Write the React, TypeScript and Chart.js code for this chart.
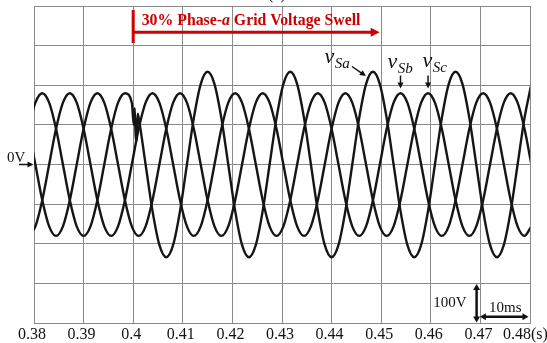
import React, { useEffect, useRef } from 'react';
import { Chart, registerables } from 'chart.js';

Chart.register(...registerables);

// Sample instants (s): one every 30 electrical degrees of the 60 Hz supply
const TIME_S = [
  0.378889, 0.380278, 0.381667, 0.383056, 0.384444, 0.385833, 0.387222, 0.388611,
  0.39, 0.391389, 0.392778, 0.394167, 0.395556, 0.396944, 0.398333, 0.399722,
  0.401111, 0.4025, 0.403889, 0.405278, 0.406667, 0.408056, 0.409444, 0.410833,
  0.412222, 0.413611, 0.415, 0.416389, 0.417778, 0.419167, 0.420556, 0.421944,
  0.423333, 0.424722, 0.426111, 0.4275, 0.428889, 0.430278, 0.431667, 0.433056,
  0.434444, 0.435833, 0.437222, 0.438611, 0.44, 0.441389, 0.442778, 0.444167,
  0.445556, 0.446944, 0.448333, 0.449722, 0.451111, 0.4525, 0.453889, 0.455278,
  0.456667, 0.458056, 0.459444, 0.460833, 0.462222, 0.463611, 0.465, 0.466389,
  0.467778, 0.469167, 0.470556, 0.471944, 0.473333, 0.474722, 0.476111, 0.4775,
  0.478889, 0.480278,
];

// Phase-a source voltage (V) up to the swell (first 16 instants)
const VSA_BEFORE = [90, 156, 180, 156, 90, 0, -90, -156, -180, -156, -90, 0, 90, 156, 180, 156];

// Switching disturbance on phase a right at the swell onset
const VSA_ONSET_T = [0.40012, 0.4003, 0.4005, 0.40068, 0.4009];
const VSA_ONSET_V = [100, 142, 72, 58, 128];

// Phase-a source voltage (V) during the 30 % swell (remaining instants)
const VSA_AFTER = [
  117, 0, -117, -203, -234, -203, -117, 0, 117, 203, 234, 203,
  117, 0, -117, -203, -234, -203, -117, 0, 117, 203, 234, 203,
  117, 0, -117, -203, -234, -203, -117, 0, 117, 203, 234, 203,
  117, 0, -117, -203, -234, -203, -117, 0, 117, 203, 234, 203,
  117, 0, -117, -203, -234, -203, -117, 0, 117, 203,
];

// Phase-b and phase-c source voltages (V), unaffected by the swell
const VSB = [
  -180, -156, -90, 0, 90, 156, 180, 156, 90, 0, -90, -156,
  -180, -156, -90, 0, 90, 156, 180, 156, 90, 0, -90, -156,
  -180, -156, -90, 0, 90, 156, 180, 156, 90, 0, -90, -156,
  -180, -156, -90, 0, 90, 156, 180, 156, 90, 0, -90, -156,
  -180, -156, -90, 0, 90, 156, 180, 156, 90, 0, -90, -156,
  -180, -156, -90, 0, 90, 156, 180, 156, 90, 0, -90, -156,
  -180, -156,
];
const VSC = [
  90, 0, -90, -156, -180, -156, -90, 0, 90, 156, 180, 156,
  90, 0, -90, -156, -180, -156, -90, 0, 90, 156, 180, 156,
  90, 0, -90, -156, -180, -156, -90, 0, 90, 156, 180, 156,
  90, 0, -90, -156, -180, -156, -90, 0, 90, 156, 180, 156,
  90, 0, -90, -156, -180, -156, -90, 0, 90, 156, 180, 156,
  90, 0, -90, -156, -180, -156, -90, 0, 90, 156, 180, 156,
  90, 0,
];

// Time axis ticks and their printed labels
const X_TICKS = [0.38, 0.39, 0.4, 0.41, 0.42, 0.43, 0.44, 0.45, 0.46, 0.47, 0.48];
const X_TICK_LABELS = ['0.38', '0.39', '0.4', '0.41', '0.42', '0.43', '0.44', '0.45', '0.46', '0.47', '0.48(s)'];

// Voltage axis: 100 V per division
const Y_MIN = -400;
const Y_MAX = 400;
const Y_STEP = 100;

// Event marker and peak instants used by the labels
const SWELL_START_S = 0.4;
const SWELL_ARROW_END_S = 0.4497;
const SWELL_TEXT = ['30% Phase-', 'a', ' Grid Voltage Swell'];
const PEAK_A_S = 0.448333;
const PEAK_B_S = 0.453889;
const PEAK_C_S = 0.459444;

const SERIF = '"Liberation Serif", "Times New Roman", serif';
const INK = '#111111';
const RED = '#cc0000';

function arrowHead(ctx: CanvasRenderingContext2D, x: number, y: number, angle: number, len: number, half: number) {
  ctx.save();
  ctx.translate(x, y);
  ctx.rotate(angle);
  ctx.beginPath();
  ctx.moveTo(0, 0);
  ctx.lineTo(-len, -half);
  ctx.lineTo(-len, half);
  ctx.closePath();
  ctx.fill();
  ctx.restore();
}

function arrow(ctx: CanvasRenderingContext2D, x0: number, y0: number, x1: number, y1: number, lw: number, len: number, half: number, both = false) {
  const ang = Math.atan2(y1 - y0, x1 - x0);
  const cx = Math.cos(ang) * len * 0.8;
  const cy = Math.sin(ang) * len * 0.8;
  ctx.lineWidth = lw;
  ctx.beginPath();
  ctx.moveTo(both ? x0 + cx : x0, both ? y0 + cy : y0);
  ctx.lineTo(x1 - cx, y1 - cy);
  ctx.stroke();
  arrowHead(ctx, x1, y1, ang, len, half);
  if (both) arrowHead(ctx, x0, y0, ang + Math.PI, len, half);
}

function phaseLabel(ctx: CanvasRenderingContext2D, x: number, y: number, sub: string, subDy: number) {
  ctx.textAlign = 'left';
  ctx.font = `italic 22px ${SERIF}`;
  ctx.fillText('v', x, y);
  const w = ctx.measureText('v').width;
  ctx.font = `italic 15px ${SERIF}`;
  ctx.fillText(sub, x + w + 0.5, y + subDy);
}

const overlay = {
  id: 'scopeOverlay',
  afterDraw(chart: any) {
    const { ctx } = chart;
    const xs = chart.scales.x;
    const ys = chart.scales.y;
    ctx.save();
    ctx.fillStyle = INK;
    ctx.strokeStyle = INK;
    ctx.textBaseline = 'alphabetic';

    // time tick labels
    ctx.font = `16px ${SERIF}`;
    xs.ticks.forEach((tk: any, i: number) => {
      const px = xs.getPixelForValue(tk.value);
      const label = X_TICK_LABELS[i];
      if (i === X_TICK_LABELS.length - 1) {
        ctx.textAlign = 'left';
        ctx.fillText(label, px - 27, 338.5);
      } else {
        ctx.textAlign = 'center';
        ctx.fillText(label, px - 2, 338.5);
      }
    });

    // clipped caption above the frame
    ctx.textAlign = 'center';
    ctx.font = `16px ${SERIF}`;
    ctx.fillText('(c)', 277, -1.5);

    // zero reference marker
    const y0 = ys.getPixelForValue(0);
    ctx.textAlign = 'left';
    ctx.font = `15px ${SERIF}`;
    ctx.fillText('0V', 7, y0 - 3);
    arrow(ctx, 19, y0, chart.chartArea.left - 0.5, y0, 1.5, 6, 3);

    // swell event marker
    const xs0 = xs.getPixelForValue(SWELL_START_S);
    const xs1 = xs.getPixelForValue(SWELL_ARROW_END_S);
    ctx.fillStyle = RED;
    ctx.strokeStyle = RED;
    ctx.fillRect(xs0 - 1.5, 10, 3, 33);
    arrow(ctx, xs0, 32.3, xs1, 32.3, 3, 9, 4.5);
    let tx = xs0 + 8.5;
    SWELL_TEXT.forEach((part, i) => {
      ctx.font = i === 1 ? `italic bold 15.8px ${SERIF}` : `bold 15.8px ${SERIF}`;
      ctx.fillText(part, tx, 25.3);
      tx += ctx.measureText(part).width;
    });

    // phase labels with pointers to their crests
    ctx.fillStyle = INK;
    ctx.strokeStyle = INK;
    phaseLabel(ctx, 324.5, 63, 'Sa', 5);
    arrow(ctx, 352, 66.5, xs.getPixelForValue(PEAK_A_S) - 7, 76, 1.5, 6, 3);
    phaseLabel(ctx, 387.5, 67.5, 'Sb', 5.5);
    const pb = xs.getPixelForValue(PEAK_B_S);
    arrow(ctx, pb, 75.5, pb, 88.5, 1.5, 6, 3);
    phaseLabel(ctx, 422.5, 67, 'Sc', 5);
    const pc = xs.getPixelForValue(PEAK_C_S);
    arrow(ctx, pc, 75.5, pc, 88.5, 1.5, 6, 3);

    // scale bars: 100 V and 10 ms
    const yTop = ys.getPixelForValue(Y_MIN + Y_STEP);
    const yBot = ys.getPixelForValue(Y_MIN);
    const xl = xs.getPixelForValue(0.47);
    const xr = xs.getPixelForValue(0.48);
    arrow(ctx, xl - 3.8, yBot - 0.5, xl - 3.8, yTop + 0.5, 2.5, 6, 3.5, true);
    arrow(ctx, xl - 0.5, 316.8, xr - 1.5, 316.8, 2.5, 6, 3.5, true);
    ctx.font = `15px ${SERIF}`;
    ctx.textAlign = 'right';
    ctx.fillText('100V', 466.5, 306.5);
    ctx.textAlign = 'left';
    ctx.fillText('10ms', 489, 312);
    ctx.restore();
  },
};

export default function App() {
  const ref = useRef<HTMLCanvasElement | null>(null);

  useEffect(() => {
    document.body.style.margin = '0';
    const canvas = ref.current;
    if (!canvas) return;

    const pts = (ts: number[], vs: number[]) => ts.map((t, i) => ({ x: t, y: vs[i] }));
    const phaseA = [
      ...pts(TIME_S.slice(0, VSA_BEFORE.length), VSA_BEFORE),
      ...pts(VSA_ONSET_T, VSA_ONSET_V),
      ...pts(TIME_S.slice(VSA_BEFORE.length), VSA_AFTER),
    ];
    const wave = {
      borderColor: '#151515',
      borderWidth: 2.4,
      pointRadius: 0,
      cubicInterpolationMode: 'monotone' as const,
      fill: false,
      clip: 0,
    };

    const chart = new Chart(canvas, {
      type: 'line',
      data: {
        datasets: [
          { label: 'vSa', data: phaseA, ...wave },
          { label: 'vSb', data: pts(TIME_S, VSB), ...wave },
          { label: 'vSc', data: pts(TIME_S, VSC), ...wave },
        ],
      },
      options: {
        responsive: false,
        maintainAspectRatio: false,
        animation: false,
        events: [],
        layout: { padding: { left: 34, right: 17, top: 6, bottom: 20 } },
        plugins: { legend: { display: false }, tooltip: { enabled: false } },
        scales: {
          x: {
            type: 'linear',
            min: X_TICKS[0],
            max: X_TICKS[X_TICKS.length - 1],
            afterBuildTicks: (s: any) => {
              s.ticks = X_TICKS.map((v) => ({ value: v }));
            },
            ticks: { display: false },
            grid: { color: '#8a8a8a', lineWidth: 1, drawTicks: false },
            border: { color: '#8a8a8a' },
          },
          y: {
            type: 'linear',
            min: Y_MIN,
            max: Y_MAX,
            ticks: { display: false, stepSize: Y_STEP },
            grid: { color: '#8a8a8a', lineWidth: 1, drawTicks: false },
            border: { color: '#8a8a8a' },
          },
        },
      },
      plugins: [overlay],
    });

    return () => chart.destroy();
  }, []);

  return <canvas ref={ref} width={547} height={343} style={{ display: 'block' }} />;
}
